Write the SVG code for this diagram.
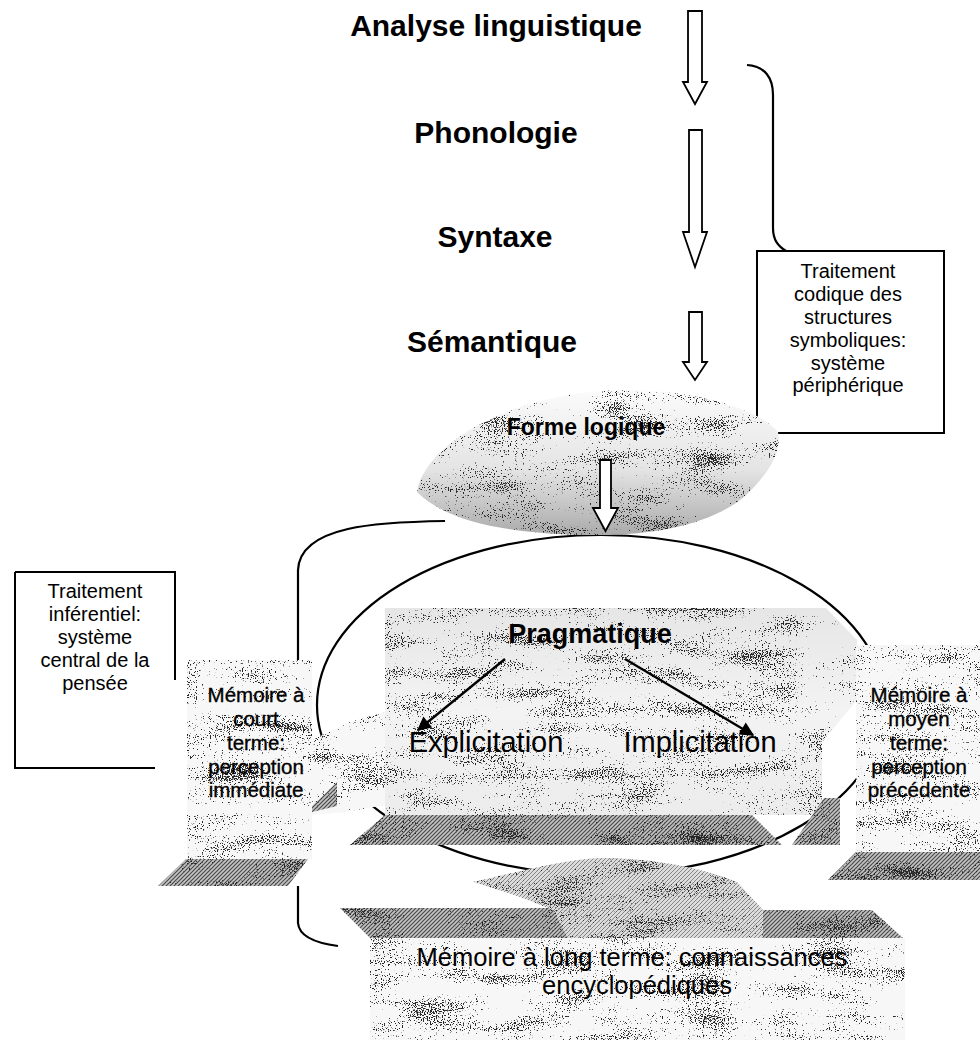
<svg xmlns="http://www.w3.org/2000/svg" width="980" height="1042" viewBox="0 0 980 1042">
  <style>
    text { font-family: "Liberation Sans", Arial, Helvetica, sans-serif; fill: #000; }
    .title { font-size: 30px; font-weight: bold; text-anchor: middle; }
    .note { font-size: 20px; text-anchor: middle; }
    .mem { font-size: 20.5px; text-anchor: middle; stroke: #000; stroke-width: 0.35px; }
    .big { font-size: 29px; text-anchor: middle; }
    .line { fill: none; stroke: #000; stroke-width: 2.2; }
    .thin { fill: none; stroke: #000; stroke-width: 2; }
    .hollow { fill: #fff; stroke: #000; stroke-width: 1.8; stroke-linejoin: miter; }
    .sparse { fill: #f7f7f7; filter: url(#grain); }
    .dense { fill: url(#hatch); filter: url(#grain); }
    .medium { fill: url(#hatchLight); filter: url(#grain); }
  </style>
  <defs>
    <!-- speckled print texture: fine dots, slightly denser along wide horizontal streaks -->
    <filter id="grain" filterUnits="userSpaceOnUse" x="0" y="0" width="980" height="1042" color-interpolation-filters="sRGB">
      <feTurbulence type="fractalNoise" baseFrequency="0.85" numOctaves="1" seed="4" result="fine"/>
      <feColorMatrix in="fine" type="matrix" values="1 0 0 0 0  0 1 0 0 0  0 0 1 0 0  0 0 0 0 1" result="fineO"/>
      <feTurbulence type="fractalNoise" baseFrequency="0.015 0.06" numOctaves="2" seed="9" result="coarse"/>
      <feColorMatrix in="coarse" type="matrix" values="1 0 0 0 0  0 1 0 0 0  0 0 1 0 0  0 0 0 0 1" result="coarseO"/>
      <feComposite in="fineO" in2="coarseO" operator="arithmetic" k1="0" k2="1" k3="0.6" k4="-0.3" result="mix"/>
      <feColorMatrix in="mix" type="matrix" values="0 0 0 0 0.15  0 0 0 0 0.15  0 0 0 0 0.15  -16 0 0 0 5.6" result="dots"/>
      <feComposite in="dots" in2="SourceAlpha" operator="in" result="clipped"/>
      <feMerge>
        <feMergeNode in="SourceGraphic"/>
        <feMergeNode in="clipped"/>
      </feMerge>
    </filter>
    <pattern id="hatch" width="4" height="4" patternUnits="userSpaceOnUse">
      <rect width="4" height="4" fill="#c4c4c4"/>
      <path d="M0,4 L4,0 M-1,1 L1,-1 M3,5 L5,3" stroke="#4a4a4a" stroke-width="1.2"/>
    </pattern>
    <pattern id="hatchLight" width="4" height="4" patternUnits="userSpaceOnUse">
      <rect width="4" height="4" fill="#dcdcdc"/>
      <path d="M0,4 L4,0 M-1,1 L1,-1 M3,5 L5,3" stroke="#7a7a7a" stroke-width="0.9"/>
    </pattern>
    <linearGradient id="blobShade" x1="0" y1="0" x2="0" y2="1">
      <stop offset="0" stop-color="#fbfbfb"/>
      <stop offset="0.55" stop-color="#e4e4e4"/>
      <stop offset="1" stop-color="#ababab"/>
    </linearGradient>
    <linearGradient id="panelShade" x1="0" y1="0" x2="0" y2="1">
      <stop offset="0" stop-color="#e6e6e6"/>
      <stop offset="0.5" stop-color="#f3f3f3"/>
      <stop offset="1" stop-color="#ececec"/>
    </linearGradient>
    <marker id="headL" viewBox="0 0 10 10" refX="9" refY="5" markerWidth="16" markerHeight="14" orient="auto" markerUnits="userSpaceOnUse">
      <path d="M0,0 L10,5 L0,10 Z" fill="#000"/>
    </marker>
  </defs>

  <rect width="980" height="1042" fill="#fff"/>

  <!-- inference cycle (large oval) -->
  <g id="inference-cycle">
    <ellipse cx="601" cy="705" rx="284" ry="170" class="line"/>
  </g>

  <!-- linguistic analysis levels -->
  <g id="analyse-linguistique"><text class="title" x="496" y="36">Analyse linguistique</text></g>
  <g id="phonologie"><text class="title" x="496" y="143">Phonologie</text></g>
  <g id="syntaxe"><text class="title" x="495" y="247">Syntaxe</text></g>
  <g id="semantique"><text class="title" x="492" y="352">Sémantique</text></g>

  <!-- peripheral system note -->
  <g id="traitement-codique">
    <rect x="757" y="251" width="187" height="182" fill="#fff" stroke="#000" stroke-width="2"/>
    <text class="note" x="848" y="278">Traitement</text>
    <text class="note" x="848" y="301">codique des</text>
    <text class="note" x="848" y="324">structures</text>
    <text class="note" x="848" y="347">symboliques:</text>
    <text class="note" x="848" y="370">système</text>
    <text class="note" x="848" y="392">périphérique</text>
  </g>

  <!-- central system note -->
  <g id="traitement-inferentiel">
    <rect x="15" y="572" width="160" height="196" fill="#fff"/>
    <path d="M15,572 H175 V680 M15,572 V768 H155" class="thin"/>
    <text class="note" x="95" y="598">Traitement</text>
    <text class="note" x="95" y="621">inférentiel:</text>
    <text class="note" x="95" y="644">système</text>
    <text class="note" x="95" y="667">central de la</text>
    <text class="note" x="95" y="690">pensée</text>
  </g>

  <!-- logical form -->
  <g id="forme-logique">
    <path d="M417,492 C425,440 520,392 620,390 C700,390 760,410 778,432 C782,452 770,472 745,496 C715,522 660,535 600,535 C520,535 450,525 417,492 Z" fill="url(#blobShade)" filter="url(#grain)"/>
    <text x="586" y="435" style="font-size:23px;font-weight:bold;text-anchor:middle">Forme logique</text>
  </g>

  <!-- short-term memory -->
  <g id="memoire-court-terme">
    <path class="sparse" d="M312,740 L350,722 L385,712 L385,805 L345,812 L312,815 Z"/>
    <path class="dense" d="M304,814 L337,782 L337,806 Z"/>
    <rect class="sparse" x="187" y="660" width="125" height="199"/>
    <path class="dense" d="M158,886 L186,859 L308,859 L288,886 Z"/>
    <text class="mem" x="256" y="702">Mémoire à</text>
    <text class="mem" x="256" y="726">court</text>
    <text class="mem" x="256" y="750">terme:</text>
    <text class="mem" x="256" y="774">perception</text>
    <text class="mem" x="256" y="797">immédiate</text>
  </g>

  <!-- pragmatics -->
  <g id="pragmatique">
    <path d="M385,608 H826 L857,640 V700 L822,742 V815 H385 Z" fill="url(#panelShade)" filter="url(#grain)"/>
    <path class="dense" d="M350,845 L385,815 H752 L782,845 Z"/>
    <path class="dense" d="M792,845 L824,798 L840,798 L840,845 Z"/>
    <text x="590" y="643" style="font-size:27px;font-weight:bold;text-anchor:middle">Pragmatique</text>
    <text class="big" x="486" y="752">Explicitation</text>
    <text class="big" x="700" y="752">Implicitation</text>
  </g>

  <!-- medium-term memory -->
  <g id="memoire-moyen-terme">
    <rect class="sparse" x="856" y="645" width="124" height="207"/>
    <path class="dense" d="M828,880 L856,852 H980 V880 Z"/>
    <text class="mem" x="919" y="702">Mémoire à</text>
    <text class="mem" x="919" y="726">moyen</text>
    <text class="mem" x="919" y="750">terme:</text>
    <text class="mem" x="919" y="774">perception</text>
    <text class="mem" x="919" y="797">précédente</text>
  </g>

  <!-- long-term memory -->
  <g id="memoire-long-terme">
    <path class="dense" d="M340,908 H553 L568,938 H370 Z"/>
    <path class="medium" d="M473,882 C520,872 560,860 600,858 C640,857 700,866 737,882 L763,910 V938 H568 L553,910 C530,900 500,890 473,882 Z"/>
    <path class="dense" d="M763,910 H872 L903,938 H763 Z"/>
    <rect class="sparse" x="370" y="938" width="535" height="102"/>
    <text x="632" y="966" style="font-size:25.5px;text-anchor:middle">Mémoire à long terme: connaissances</text>
    <text x="637" y="994" style="font-size:25.5px;text-anchor:middle">encyclopédiques</text>
  </g>

  <!-- connectors -->
  <g id="connectors">
    <path class="hollow" d="M688,11 H702 V82 H707 L695,104 L683,82 H688 Z"/>
    <path class="hollow" d="M689,130 H702 V232 H707 L695,267 L683,232 H689 Z"/>
    <path class="hollow" d="M689,312 H702 V362 H707 L695,380 L683,362 H689 Z"/>
    <path class="hollow" d="M600,460 H611 V508 H618 L605.5,531 L593,508 H600 Z"/>
    <!-- brackets -->
    <path class="line" d="M747,65 C765,66 773,78 773,95 V228 C773,240 778,246 786,251"/>
    <path class="line" d="M445,521 C380,522 300,525 298,570 V660"/>
    <path class="line" d="M298,886 V923 C299,936 315,943 338,946"/>
    <!-- pragmatic derivations -->
    <path d="M505,659 L418,730" stroke="#000" stroke-width="2.4" marker-end="url(#headL)"/>
    <path d="M625,659 L753,735" stroke="#000" stroke-width="2.4" marker-end="url(#headL)"/>
  </g>
</svg>
